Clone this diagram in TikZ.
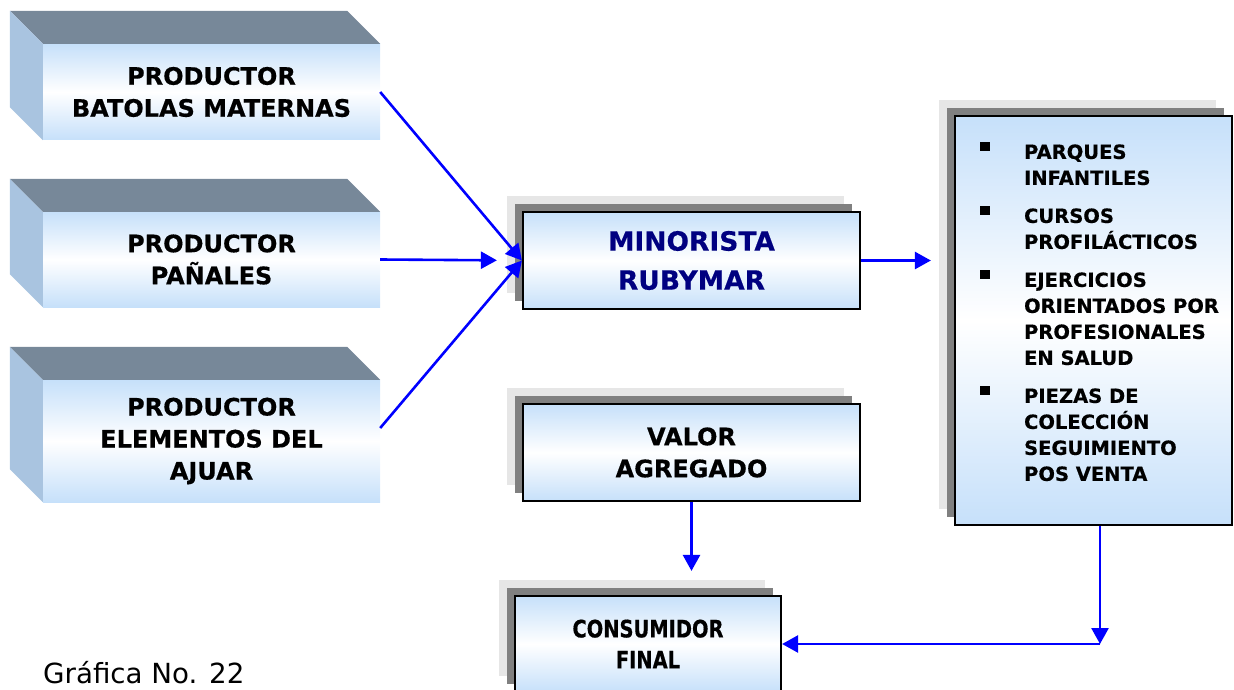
\documentclass[tikz,border=0pt]{standalone}
\usepackage{fontspec}
\setmainfont{DejaVu Sans}[BoldFeatures={FakeBold=0.5}]
\newfontfamily\narrowsans[FakeStretch=0.81,BoldFeatures={FakeBold=0.5}]{DejaVu Sans}
\usetikzlibrary{arrows.meta,shadows}

\definecolor{caraazul}{HTML}{C6E0FA}
\definecolor{ladoazul}{HTML}{A9C4E0}
\definecolor{techo}{HTML}{778899}
\definecolor{sombraclara}{HTML}{E6E6E6}
\definecolor{sombraoscura}{HTML}{808080}
\definecolor{marino}{HTML}{000080}

\tikzset{
  frente/.style={rectangle, inner sep=0pt, top color=caraazul, bottom color=caraazul,
    middle color=white, align=center, font=\bfseries\fontsize{24}{32}\selectfont},
  caja/.style={frente, draw=black, line width=2.2pt,
    general shadow={shadow xshift=-16pt, shadow yshift=16pt, fill=sombraclara},
    general shadow={shadow xshift=-8pt, shadow yshift=8pt, fill=sombraoscura}},
  flecha/.style={draw=blue, line width=2.6pt, -{Triangle[length=16pt,width=17pt]}}
}

\begin{document}
\begin{tikzpicture}[x=1pt,y=-1pt]
  \useasboundingbox (0,0) rectangle (1234,690);

  % productores
  \node[frente, minimum width=337pt, minimum height=96pt] (prodA) at (211.5,92) {PRODUCTOR\\BATOLAS MATERNAS};
  \node[frente, minimum width=337pt, minimum height=95pt] (prodB) at (211.5,259.5) {PRODUCTOR\\PAÑALES};
  \node[frente, minimum width=337pt, minimum height=122pt] (prodC) at (211.5,441) {PRODUCTOR\\ELEMENTOS DEL\\AJUAR};
  \foreach \n in {prodA,prodB,prodC}{
    \fill[techo] (\n.north west) -- ++(-33,-33) -- ([shift={(-33,-33)}]\n.north east) -- (\n.north east) -- cycle;
    \fill[ladoazul] (\n.north west) -- ++(-33,-33) -- ([shift={(-33,-33)}]\n.south west) -- (\n.south west) -- cycle;
  }

  \node[caja, minimum width=337pt, minimum height=97pt, text=marino,
        font=\bfseries\fontsize{26.5}{39}\selectfont] (minorista) at (691.5,260.5) {MINORISTA\\RUBYMAR};
  \node[caja, minimum width=337pt, minimum height=97pt] (valor) at (691.5,452.5) {VALOR\\AGREGADO};
  \node[caja, minimum width=266pt, minimum height=96pt,
        font=\narrowsans\bfseries\fontsize{24}{31}\selectfont] (consumidor) at (648,644) {CONSUMIDOR\\FINAL};
  \node[caja, minimum width=277pt, minimum height=409pt] (servicios) at (1093.5,320.5) {};
  \node[anchor=base west, inner sep=0pt, font=\bfseries\fontsize{19.5}{26}\selectfont]
    (lista) at ([shift={(26,44)}]servicios.north west)
    {\begin{tabular}[t]{@{}p{44pt}@{}l@{}}
      \rule[8pt]{10pt}{9pt} & PARQUES\\
       & INFANTILES\\[12pt]
      \rule[8pt]{10pt}{9pt} & CURSOS\\
       & PROFILÁCTICOS\\[12pt]
      \rule[8pt]{10pt}{9pt} & EJERCICIOS\\
       & ORIENTADOS POR\\
       & PROFESIONALES\\
       & EN SALUD\\[12pt]
      \rule[8pt]{10pt}{9pt} & PIEZAS DE\\
       & COLECCIÓN\\
       & SEGUIMIENTO\\
       & POS VENTA
    \end{tabular}};

  \node[anchor=base west, inner sep=0pt, font=\fontsize{27.7}{32}\selectfont] (titulo) at (43,683) {Gráfica No. 22};

  % flechas
  \draw[flecha] (prodA.east) -- (minorista.west);
  \draw[flecha, shorten >=25pt] (prodB.east) -- (minorista.west);
  \draw[flecha] ([yshift=13pt]prodC.east) -- (minorista.west);
  \draw[flecha, shorten >=23pt] (minorista.east) -- (minorista.east -| servicios.west);
  \draw[flecha, shorten >=24pt] (valor.south) -- (valor.south |- consumidor.north);
  \coordinate (giro) at (1100,644);
  \draw[flecha] (servicios.south -| giro) -- (giro);
  \draw[flecha] (giro) -- (consumidor.east);
\end{tikzpicture}
\end{document}
